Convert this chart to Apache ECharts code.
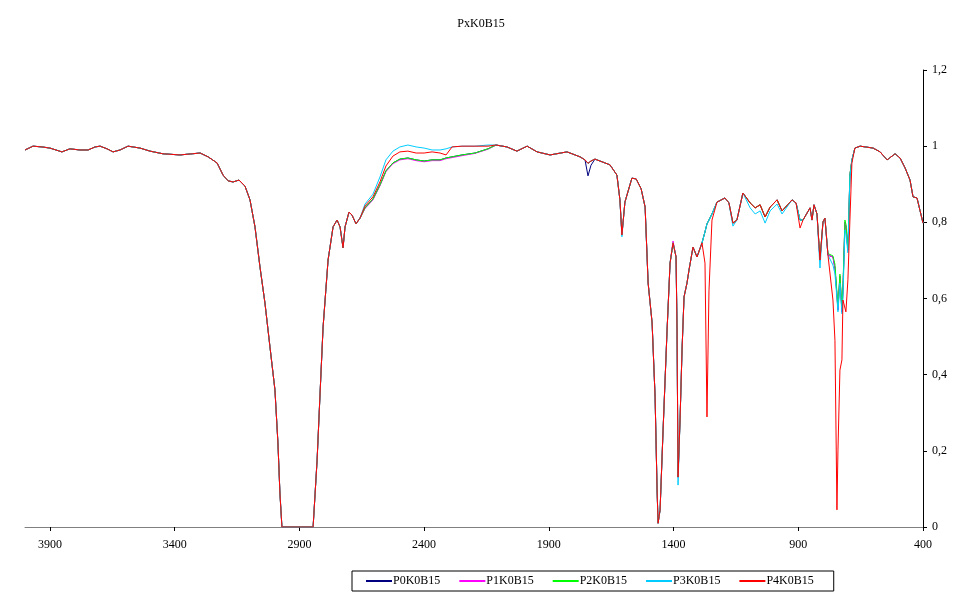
<!DOCTYPE html>
<html>
<head>
<meta charset="utf-8">
<title>PxK0B15</title>
<script src="https://cdn.jsdelivr.net/npm/echarts@6/dist/echarts.min.js"></script>
<style>
html, body { margin: 0; padding: 0; background: #fff; }
#chart { width: 962px; height: 600px; }
</style>
</head>
<body>
<div id="chart"></div>
<script>
// wavenumber grid (cm-1), shared by all five spectra
const wavenumbers = [
    4000, 3968, 3932, 3900, 3876, 3852, 3820, 3780, 3747, 3719,
    3699, 3671, 3647, 3619, 3587, 3539, 3499, 3447, 3379, 3330,
    3298, 3266, 3230, 3206, 3186, 3166, 3142, 3118, 3098, 3078,
    3058, 3038, 3018, 2998, 2986, 2978, 2970, 2906, 2845, 2829,
    2817, 2805, 2785, 2765, 2749, 2737, 2725, 2717, 2701, 2689,
    2673, 2657, 2637, 2605, 2577, 2553, 2525, 2497, 2465, 2432,
    2400, 2368, 2336, 2312, 2288, 2248, 2196, 2144, 2112, 2068,
    2028, 1987, 1947, 1895, 1827, 1775, 1755, 1743, 1731, 1715,
    1655, 1627, 1615, 1607, 1595, 1567, 1550, 1530, 1514, 1502,
    1486, 1474, 1466, 1462, 1454, 1442, 1426, 1414, 1402, 1390,
    1386, 1382, 1374, 1366, 1358, 1346, 1338, 1322, 1306, 1286,
    1274, 1266, 1258, 1246, 1226, 1194, 1178, 1162, 1146, 1122,
    1093, 1073, 1053, 1033, 1013, 985, 965, 925, 909, 893,
    881, 853, 845, 837, 825, 813, 801, 793, 781, 761,
    753, 745, 741, 733, 725, 721, 713, 709, 701, 693,
    685, 673, 652, 600, 572, 544, 512, 492, 472, 452,
    440, 424, 400
];

const p0K0B15 = [
    0.990, 1.000, 0.998, 0.995, 0.990, 0.985, 0.993, 0.990, 0.990, 0.998,
    1.000, 0.993, 0.985, 0.990, 1.000, 0.995, 0.987, 0.980, 0.977, 0.980,
    0.982, 0.972, 0.956, 0.924, 0.909, 0.906, 0.911, 0.895, 0.859, 0.788,
    0.683, 0.588, 0.473, 0.360, 0.221, 0.089, 0.000, 0.000, 0.000, 0.176,
    0.352, 0.525, 0.701, 0.788, 0.806, 0.788, 0.733, 0.788, 0.827, 0.819,
    0.796, 0.811, 0.838, 0.861, 0.898, 0.935, 0.956, 0.966, 0.969, 0.964,
    0.961, 0.964, 0.964, 0.969, 0.972, 0.977, 0.982, 0.993, 1.003, 0.998,
    0.987, 1.000, 0.985, 0.977, 0.985, 0.972, 0.964, 0.922, 0.950, 0.966,
    0.951, 0.924, 0.859, 0.767, 0.853, 0.916, 0.914, 0.888, 0.840, 0.641,
    0.536, 0.341, 0.097, 0.010, 0.045, 0.255, 0.517, 0.693, 0.746, 0.709,
    0.517, 0.131, 0.281, 0.465, 0.604, 0.641, 0.675, 0.735, 0.709, 0.746,
    0.775, 0.796, 0.806, 0.822, 0.853, 0.864, 0.851, 0.798, 0.806, 0.877,
    0.851, 0.838, 0.846, 0.814, 0.840, 0.859, 0.830, 0.859, 0.851, 0.806,
    0.806, 0.838, 0.806, 0.846, 0.822, 0.701, 0.801, 0.811, 0.714, 0.709,
    0.680, 0.609, 0.570, 0.659, 0.565, 0.620, 0.801, 0.790, 0.727, 0.924,
    0.964, 0.995, 1.000, 0.995, 0.985, 0.964, 0.980, 0.969, 0.943, 0.911,
    0.867, 0.864, 0.798
];

const p1K0B15 = [
    0.990, 1.000, 0.998, 0.995, 0.990, 0.985, 0.993, 0.990, 0.990, 0.998,
    1.000, 0.993, 0.985, 0.990, 1.000, 0.995, 0.987, 0.980, 0.977, 0.980,
    0.982, 0.972, 0.956, 0.924, 0.909, 0.906, 0.911, 0.895, 0.859, 0.788,
    0.683, 0.588, 0.473, 0.360, 0.221, 0.089, 0.000, 0.000, 0.000, 0.176,
    0.352, 0.525, 0.701, 0.788, 0.806, 0.788, 0.733, 0.788, 0.827, 0.819,
    0.796, 0.811, 0.836, 0.859, 0.896, 0.933, 0.954, 0.964, 0.967, 0.962,
    0.959, 0.962, 0.962, 0.967, 0.970, 0.975, 0.981, 0.992, 1.003, 0.998,
    0.987, 1.000, 0.985, 0.977, 0.985, 0.972, 0.964, 0.955, 0.961, 0.966,
    0.951, 0.924, 0.859, 0.767, 0.853, 0.916, 0.914, 0.888, 0.840, 0.641,
    0.536, 0.341, 0.097, 0.010, 0.045, 0.255, 0.517, 0.693, 0.751, 0.709,
    0.517, 0.131, 0.281, 0.465, 0.604, 0.641, 0.675, 0.735, 0.709, 0.746,
    0.775, 0.796, 0.806, 0.822, 0.853, 0.864, 0.851, 0.798, 0.806, 0.877,
    0.851, 0.838, 0.846, 0.814, 0.840, 0.859, 0.830, 0.859, 0.851, 0.806,
    0.806, 0.838, 0.806, 0.846, 0.822, 0.701, 0.801, 0.811, 0.714, 0.709,
    0.680, 0.609, 0.570, 0.659, 0.565, 0.620, 0.801, 0.790, 0.727, 0.924,
    0.964, 0.995, 1.000, 0.995, 0.985, 0.964, 0.980, 0.969, 0.943, 0.911,
    0.867, 0.864, 0.798
];

const p2K0B15 = [
    0.990, 1.000, 0.998, 0.995, 0.990, 0.985, 0.993, 0.990, 0.990, 0.998,
    1.000, 0.993, 0.985, 0.990, 1.000, 0.995, 0.987, 0.980, 0.977, 0.980,
    0.982, 0.972, 0.956, 0.924, 0.909, 0.906, 0.911, 0.895, 0.859, 0.788,
    0.683, 0.588, 0.473, 0.360, 0.221, 0.089, 0.000, 0.000, 0.000, 0.176,
    0.352, 0.525, 0.701, 0.788, 0.806, 0.788, 0.733, 0.788, 0.827, 0.819,
    0.796, 0.811, 0.838, 0.861, 0.898, 0.935, 0.956, 0.966, 0.969, 0.964,
    0.961, 0.964, 0.964, 0.969, 0.972, 0.977, 0.982, 0.993, 1.003, 0.998,
    0.987, 1.000, 0.985, 0.977, 0.985, 0.972, 0.964, 0.955, 0.961, 0.966,
    0.951, 0.924, 0.859, 0.767, 0.853, 0.916, 0.914, 0.888, 0.840, 0.641,
    0.536, 0.341, 0.097, 0.010, 0.045, 0.255, 0.517, 0.693, 0.746, 0.709,
    0.517, 0.131, 0.281, 0.465, 0.604, 0.641, 0.675, 0.735, 0.709, 0.746,
    0.775, 0.796, 0.806, 0.822, 0.853, 0.864, 0.851, 0.798, 0.806, 0.877,
    0.851, 0.838, 0.846, 0.814, 0.840, 0.859, 0.830, 0.859, 0.851, 0.806,
    0.806, 0.838, 0.806, 0.846, 0.822, 0.705, 0.801, 0.811, 0.718, 0.712,
    0.690, 0.615, 0.580, 0.664, 0.575, 0.630, 0.806, 0.795, 0.730, 0.926,
    0.964, 0.995, 1.000, 0.995, 0.985, 0.964, 0.980, 0.969, 0.943, 0.911,
    0.867, 0.864, 0.798
];

const p3K0B15 = [
    0.990, 1.000, 0.998, 0.995, 0.990, 0.985, 0.993, 0.990, 0.990, 0.998,
    1.000, 0.993, 0.985, 0.990, 1.000, 0.995, 0.987, 0.980, 0.977, 0.980,
    0.982, 0.972, 0.956, 0.924, 0.909, 0.906, 0.911, 0.895, 0.859, 0.788,
    0.683, 0.588, 0.473, 0.360, 0.221, 0.089, 0.000, 0.000, 0.000, 0.176,
    0.352, 0.525, 0.701, 0.788, 0.806, 0.788, 0.733, 0.788, 0.827, 0.819,
    0.796, 0.811, 0.848, 0.874, 0.919, 0.964, 0.987, 0.998, 1.003, 0.998,
    0.995, 0.990, 0.990, 0.993, 0.998, 1.000, 1.000, 1.003, 1.003, 0.998,
    0.987, 1.000, 0.985, 0.977, 0.985, 0.972, 0.964, 0.955, 0.961, 0.966,
    0.951, 0.924, 0.859, 0.762, 0.853, 0.916, 0.914, 0.888, 0.840, 0.641,
    0.536, 0.341, 0.097, 0.010, 0.045, 0.255, 0.517, 0.693, 0.746, 0.709,
    0.517, 0.110, 0.281, 0.465, 0.604, 0.641, 0.675, 0.735, 0.709, 0.746,
    0.775, 0.796, 0.806, 0.822, 0.853, 0.864, 0.851, 0.790, 0.806, 0.877,
    0.838, 0.822, 0.830, 0.798, 0.830, 0.848, 0.822, 0.859, 0.851, 0.806,
    0.806, 0.838, 0.806, 0.846, 0.822, 0.680, 0.801, 0.811, 0.714, 0.688,
    0.665, 0.600, 0.565, 0.640, 0.560, 0.600, 0.780, 0.770, 0.720, 0.920,
    0.964, 0.995, 1.000, 0.995, 0.985, 0.964, 0.980, 0.969, 0.943, 0.911,
    0.867, 0.864, 0.798
];

const p4K0B15 = [
    0.990, 1.000, 0.998, 0.995, 0.990, 0.985, 0.993, 0.990, 0.990, 0.998,
    1.000, 0.993, 0.985, 0.990, 1.000, 0.995, 0.987, 0.980, 0.977, 0.980,
    0.982, 0.972, 0.956, 0.924, 0.909, 0.906, 0.911, 0.895, 0.859, 0.788,
    0.683, 0.588, 0.473, 0.360, 0.221, 0.089, 0.000, 0.000, 0.000, 0.176,
    0.352, 0.525, 0.701, 0.788, 0.806, 0.788, 0.733, 0.788, 0.827, 0.819,
    0.796, 0.811, 0.843, 0.867, 0.906, 0.948, 0.974, 0.985, 0.987, 0.982,
    0.982, 0.985, 0.982, 0.977, 0.998, 1.000, 1.000, 1.000, 1.003, 0.998,
    0.987, 1.000, 0.985, 0.977, 0.985, 0.972, 0.964, 0.955, 0.961, 0.966,
    0.951, 0.924, 0.859, 0.767, 0.853, 0.916, 0.914, 0.888, 0.840, 0.641,
    0.536, 0.341, 0.097, 0.010, 0.045, 0.255, 0.517, 0.693, 0.746, 0.709,
    0.517, 0.131, 0.281, 0.465, 0.604, 0.641, 0.675, 0.735, 0.709, 0.746,
    0.693, 0.289, 0.620, 0.806, 0.853, 0.864, 0.851, 0.798, 0.806, 0.877,
    0.851, 0.838, 0.846, 0.814, 0.840, 0.859, 0.830, 0.859, 0.851, 0.785,
    0.806, 0.838, 0.806, 0.846, 0.822, 0.701, 0.801, 0.811, 0.714, 0.596,
    0.490, 0.045, 0.200, 0.412, 0.439, 0.596, 0.596, 0.565, 0.649, 0.806,
    0.956, 0.995, 1.000, 0.995, 0.985, 0.964, 0.980, 0.969, 0.943, 0.911,
    0.867, 0.864, 0.798
];

const seriesNames = ["P0K0B15", "P1K0B15", "P2K0B15", "P3K0B15", "P4K0B15"];
const seriesValues = [p0K0B15, p1K0B15, p2K0B15, p3K0B15, p4K0B15];
const seriesColors = ["#000080", "#ff00ff", "#00ff00", "#00ccff", "#ff0000"];
const xTicks = [3900, 3400, 2900, 2400, 1900, 1400, 900, 400];

const font = "'Liberation Serif', 'DejaVu Serif', serif";

let chart = echarts.init(document.getElementById("chart"));

let option = {
    animation: false,
    backgroundColor: "#fff",
    title: {
        text: "PxK0B15",
        left: "center",
        top: 13,
        textStyle: { fontFamily: font, fontSize: 12, fontWeight: "normal", color: "#000" }
    },
    grid: { left: 25, right: 39, top: 70, bottom: 73, containLabel: false },
    legend: {
        data: seriesNames,
        left: 352,
        top: 571,
        padding: [4, 20, 4, 14],
        borderColor: "#000",
        borderWidth: 1,
        itemGap: 19,
        itemWidth: 26,
        itemHeight: 2,
        icon: "rect",
        textStyle: { fontFamily: font, fontSize: 12, color: "#000", padding: [0, 0, 0, -4] }
    },
    xAxis: {
        type: "value",
        min: 400,
        max: 4000,
        inverse: true,
        splitLine: { show: false },
        axisLine: { onZero: false, lineStyle: { color: "#808080", width: 1 } },
        axisTick: { customValues: xTicks, length: 4, lineStyle: { color: "#000" } },
        axisLabel: {
            customValues: xTicks,
            margin: 12,
            fontFamily: font,
            fontSize: 12,
            color: "#000",
            formatter: function (v) { return String(v); }
        }
    },
    yAxis: {
        type: "value",
        position: "right",
        min: 0,
        max: 1.2,
        interval: 0.2,
        splitLine: { show: false },
        axisLine: { show: true, lineStyle: { color: "#000", width: 1 } },
        axisTick: { show: true, length: 4, lineStyle: { color: "#000" } },
        axisLabel: {
            margin: 9,
            fontFamily: font,
            fontSize: 12,
            color: "#000",
            formatter: function (v) {
                return String(Math.round(v * 10) / 10).replace(".", ",");
            }
        }
    },
    series: seriesNames.map(function (name, k) {
        return {
            name: name,
            type: "line",
            symbol: "none",
            showSymbol: false,
            color: seriesColors[k],
            lineStyle: { width: 1, color: seriesColors[k] },
            data: wavenumbers.map(function (w, i) { return [w, seriesValues[k][i]]; })
        };
    })
};

chart.setOption(option);
window.addEventListener("resize", chart.resize);
</script>
</body>
</html>
